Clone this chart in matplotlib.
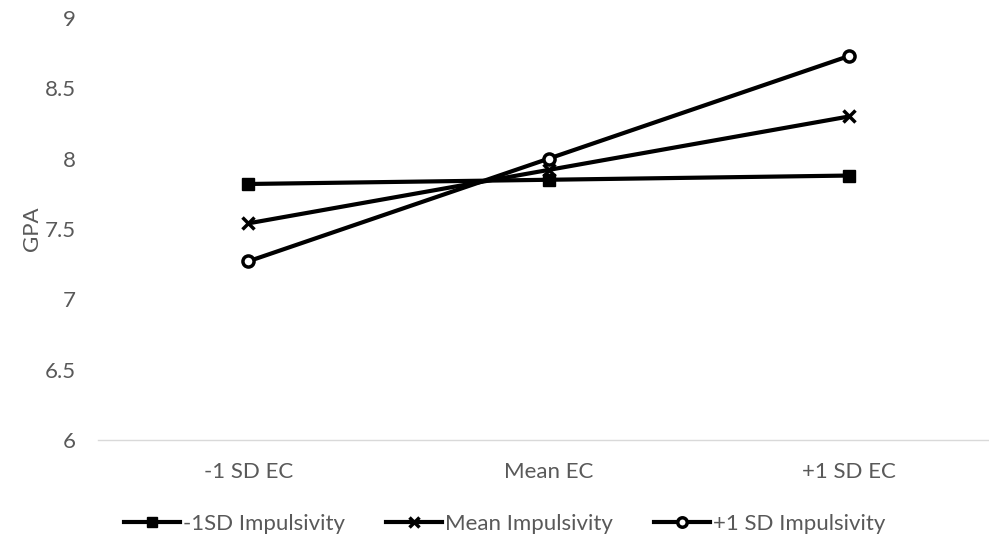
import matplotlib
matplotlib.use("Agg")
import matplotlib.pyplot as plt

categories = ["-1 SD EC", "Mean EC", "+1 SD EC"]
series_names = ["-1SD Impulsivity", "Mean Impulsivity", "+1 SD Impulsivity"]
low_imp = [7.82, 7.85, 7.88]
mean_imp = [7.54, 7.92, 8.30]
high_imp = [7.27, 8.00, 8.73]
y_ticks = [6, 6.5, 7, 7.5, 8, 8.5, 9]
y_tick_labels = ["6", "6.5", "7", "7.5", "8", "8.5", "9"]

plt.rcParams['font.family'] = ['Lato', 'DejaVu Sans']
grey = "#595959"
fs = 16

fig = plt.figure(figsize=(9.89, 5.43), dpi=100)
ax = fig.add_axes([98/989, 1-440/543, 1-98/989, (440-18)/543])

x = list(range(len(categories)))
ax.plot(x, low_imp, color="black", lw=3, marker="s", ms=9, label=series_names[0])
ax.plot(x, mean_imp, color="black", lw=3, marker="x", ms=9, mew=2.5, label=series_names[1])
ax.plot(x, high_imp, color="black", lw=3, marker="o", ms=8, mfc="white", mec="black", mew=2.5, label=series_names[2])

ax.set_xlim(-0.5, (989-248)/300.5)
ax.set_ylim(6, 9)
ax.set_xticks(x)
ax.set_xticklabels(categories, fontsize=fs, color=grey)
ax.set_yticks(y_ticks)
ax.set_yticklabels(y_tick_labels, fontsize=fs, color=grey)
ax.tick_params(axis="x", length=0, pad=16)
ax.tick_params(axis="y", length=0, pad=16)
for s in ["top", "right", "left"]:
    ax.spines[s].set_visible(False)
ax.spines["bottom"].set_color("#d9d9d9")
ax.spines["bottom"].set_linewidth(1)
ax.set_ylabel("GPA", fontsize=fs, color=grey, labelpad=2)

leg = fig.legend(loc="center", bbox_to_anchor=(505/989, 1-524/543), ncol=3, frameon=False,
                 fontsize=fs, handlelength=2.5, columnspacing=1.85, handletextpad=0.15,
                 markerscale=0.85)
for t in leg.get_texts():
    t.set_color(grey)

fig.savefig("out.png", dpi=100)
